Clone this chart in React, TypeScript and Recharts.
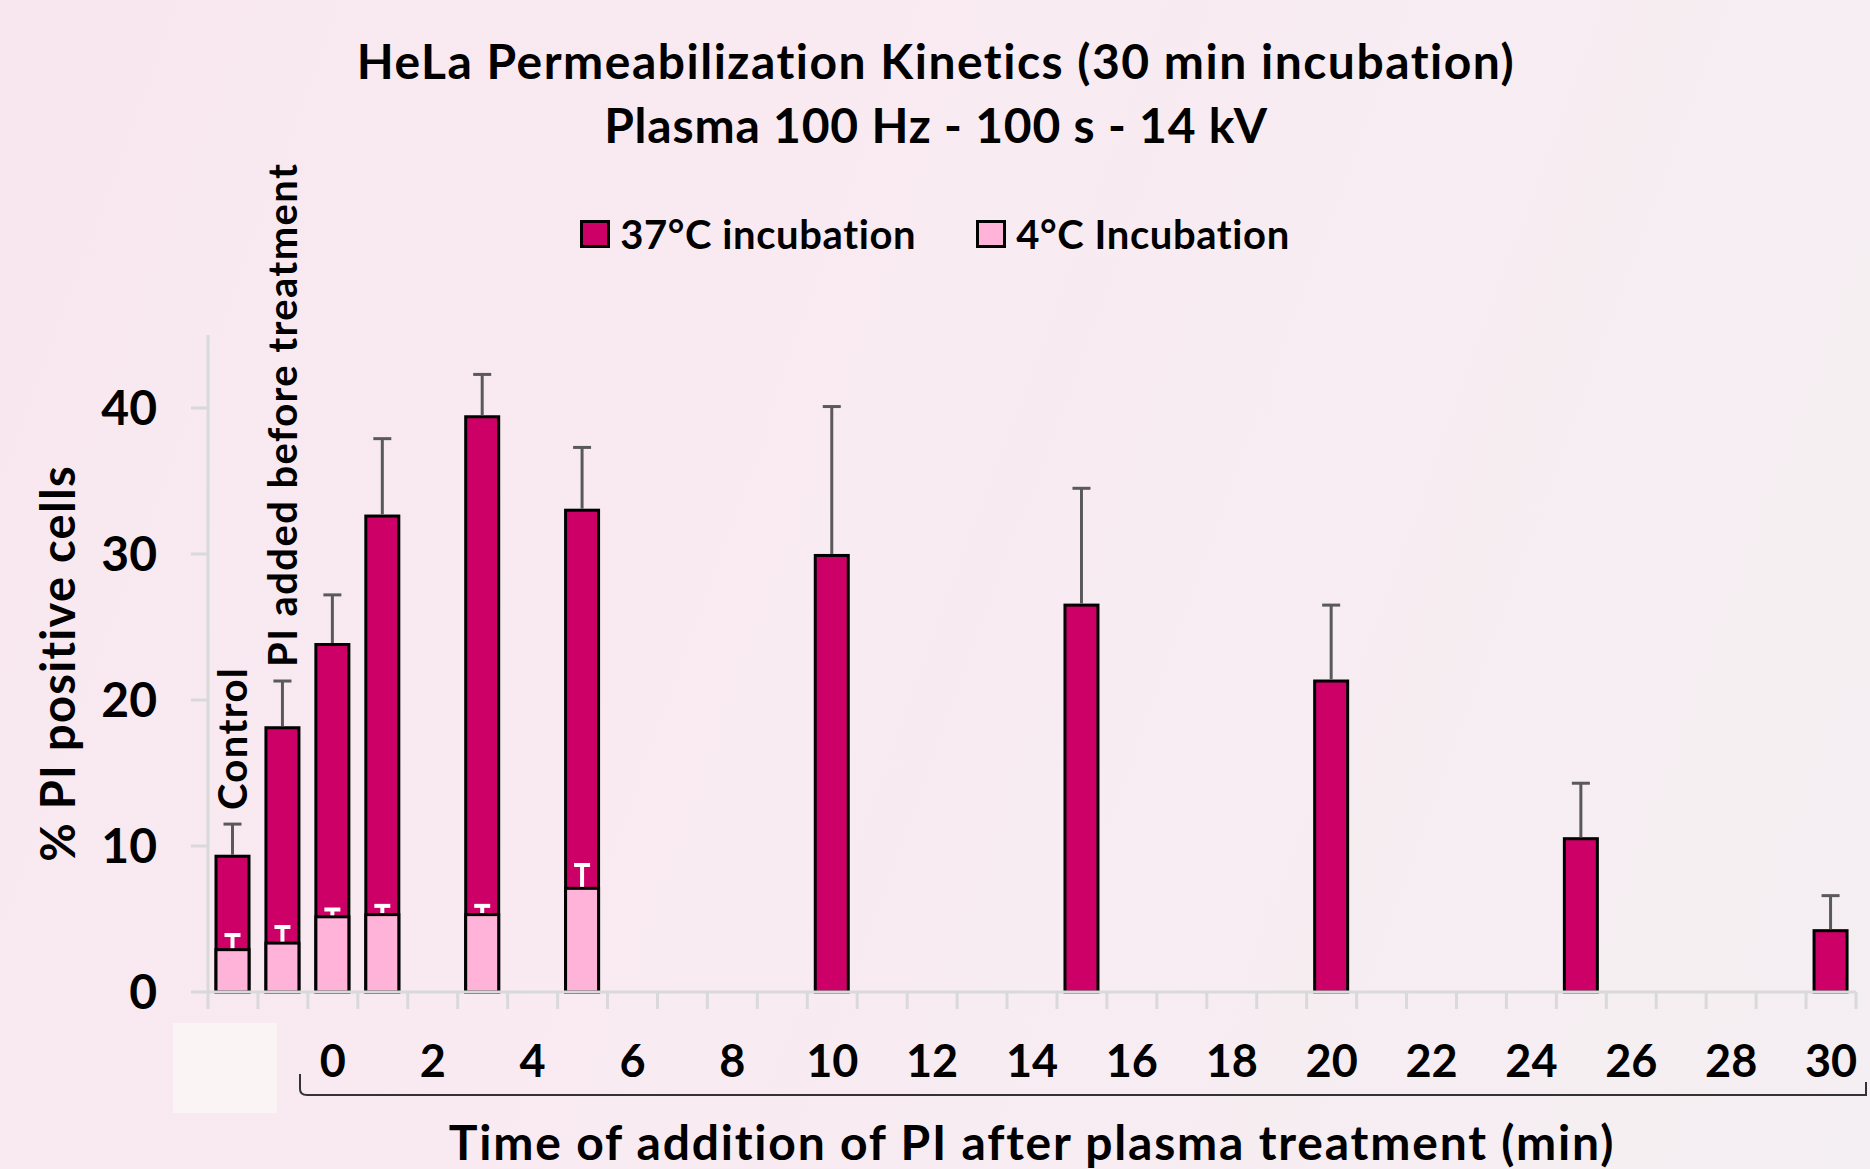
import React from "react";
import { BarChart, Bar, XAxis, YAxis, Legend, Label, LabelList } from "recharts";

const FONT = "Lato, 'Open Sans', sans-serif";
const MAGENTA = "#CC0066";
const PINK = "#FFB3D9";
const AXIS_GRAY = "#D9D9D9";

// categories: 2 reference bars then one slot per minute (0..30)
const categories = [
  "Control", "PI added before treatment",
  "0", "1", "2", "3", "4", "5", "6", "7", "8", "9", "10",
  "11", "12", "13", "14", "15", "16", "17", "18", "19", "20",
  "21", "22", "23", "24", "25", "26", "27", "28", "29", "30",
];

const inc37 = [
  9.3, 18.1,
  23.8, 32.6, null, 39.4, null, 33.0, null, null, null, null, 29.9,
  null, null, null, null, 26.5, null, null, null, null, 21.3,
  null, null, null, null, 10.5, null, null, null, null, 4.2,
];
const inc37Err = [
  2.2, 3.2,
  3.4, 5.3, null, 2.9, null, 4.3, null, null, null, null, 10.2,
  null, null, null, null, 8.0, null, null, null, null, 5.2,
  null, null, null, null, 3.8, null, null, null, null, 2.4,
];

const inc4 = [
  2.9, 3.35,
  5.15, 5.3, null, 5.3, null, 7.1, null, null, null, null, null,
  null, null, null, null, null, null, null, null, null, null,
  null, null, null, null, null, null, null, null, null, null,
];
const inc4Err = [
  1.0, 1.1,
  0.5, 0.6, null, 0.6, null, 1.6, null, null, null, null, null,
  null, null, null, null, null, null, null, null, null, null,
  null, null, null, null, null, null, null, null, null, null,
];

const xTickLabels = ["0", "2", "4", "6", "8", "10", "12", "14", "16", "18", "20", "22", "24", "26", "28", "30"];
const yTicks = [0, 10, 20, 30, 40];

const data = categories.map((name, i) => ({
  name,
  hot: inc37[i],
  hotErr: inc37Err[i],
  cold: inc4[i],
  coldErr: inc4Err[i],
}));

// bar rect + one-sided (upper) error bar
const barWithError = (valKey: string, errKey: string, errColor: string, errWidth: number, cap: number) =>
  (props: any) => {
    const { x, y, width, height, fill, payload } = props;
    const v = payload?.[valKey];
    if (v == null || !height) return <g />;
    const perUnit = height / v;
    const e = payload?.[errKey] ?? 0;
    const cx = x + width / 2;
    const top = y - e * perUnit;
    return (
      <g>
        <rect x={x} y={y} width={width} height={height} fill={fill} stroke="#000" strokeWidth={3} />
        {e > 0 && (
          <g stroke={errColor} strokeWidth={errWidth}>
            <line x1={cx} x2={cx} y1={y - 1.5} y2={top} />
            <line x1={cx - cap / 2} x2={cx + cap / 2} y1={top} y2={top} />
          </g>
        )}
      </g>
    );
  };

const XTick = (props: any) => {
  const { x, y, payload, index, visibleTicksCount } = props;
  const half = payload?.offset ?? 0;
  const label = xTickLabels.includes(String(payload.value)) ? payload.value : "";
  return (
    <g>
      <line x1={x - half} x2={x - half} y1={y - 17} y2={y} stroke={AXIS_GRAY} strokeWidth={3} />
      {index === visibleTicksCount - 1 && (
        <line x1={x + half} x2={x + half} y1={y - 17} y2={y} stroke={AXIS_GRAY} strokeWidth={3} />
      )}
      {label && (
        <text x={x} y={y + 68} textAnchor="middle" fontFamily={FONT} fontWeight={700} fontSize={45} fill="#000">
          {label}
        </text>
      )}
    </g>
  );
};

// rotated category names above the two reference bars
const RotatedName = (props: any) => {
  const { index, viewBox } = props;
  if (index > 1) return null;
  const row = data[index];
  const { x, y, width, height } = viewBox;
  const perUnit = height / (row.hot as number);
  const errTop = y - (row.hotErr as number) * perUnit;
  const cx = x + width / 2;
  const sy = errTop - 14;
  return (
    <text
      x={cx}
      y={sy}
      transform={`rotate(-90 ${cx} ${sy})`}
      textAnchor="start"
      dominantBaseline="central"
      fontFamily={FONT}
      fontWeight={700}
      fontSize={40}
      letterSpacing={1.4}
      fill="#000"
    >
      {row.name}
    </text>
  );
};

const LegendBox = () => {
  const items = [
    { label: "37°C incubation", color: MAGENTA },
    { label: "4°C Incubation", color: PINK },
  ];
  return (
    <div style={{ display: "flex", justifyContent: "center", alignItems: "center", gap: 60 }}>
      {items.map((it) => (
        <div key={it.label} style={{ display: "flex", alignItems: "center", gap: 10 }}>
          <span style={{ width: 24, height: 22, background: it.color, border: "3px solid #000", display: "inline-block" }} />
          <span style={{ fontFamily: FONT, fontWeight: 700, fontSize: 40, lineHeight: 1, letterSpacing: 0.6, color: "#000" }}>
            {it.label}
          </span>
        </div>
      ))}
    </div>
  );
};

export default function App() {
  return (
    <div
      style={{
        position: "absolute",
        left: 0,
        top: 0,
        width: 1870,
        height: 1169,
        overflow: "hidden",
        background: "linear-gradient(110deg, #F9E7EF 0%, #F8EBF1 45%, #F4EFF2 100%)",
      }}
    >
      <BarChart
        width={1870}
        height={1169}
        data={data}
        margin={{ top: 335, right: 14, bottom: 0, left: 30 }}
        barSize={33}
        barGap={-33}
      >
        <XAxis
          dataKey="name"
          interval={0}
          height={177}
          tickSize={17}
          tickMargin={0}
          tickLine={false}
          axisLine={{ stroke: AXIS_GRAY, strokeWidth: 3 }}
          tick={<XTick />}
        >
          <Label
            content={(p: any) => {
              const vb = p.viewBox;
              return (
                <text
                  x={vb.x + vb.width / 2}
                  y={vb.y + 168}
                  textAnchor="middle"
                  fontFamily={FONT}
                  fontWeight={700}
                  fontSize={48}
                  letterSpacing={1.8}
                  fill="#000"
                >
                  Time of addition  of PI after plasma  treatment (min)
                </text>
              );
            }}
          />
        </XAxis>
        <YAxis
          domain={[0, 45]}
          ticks={yTicks}
          width={178}
          tickSize={17}
          tickMargin={34}
          axisLine={{ stroke: AXIS_GRAY, strokeWidth: 3 }}
          tickLine={{ stroke: AXIS_GRAY, strokeWidth: 3 }}
          tick={{ fontFamily: FONT, fontSize: 48, fontWeight: 700, fill: "#000" }}
        >
          <Label
            content={(p: any) => {
              const vb = p.viewBox;
              const cx = 57;
              const cy = vb.y + vb.height / 2;
              return (
                <text
                  x={cx}
                  y={cy}
                  transform={`rotate(-90 ${cx} ${cy})`}
                  textAnchor="middle"
                  dominantBaseline="central"
                  fontFamily={FONT}
                  fontWeight={700}
                  fontSize={47}
                  letterSpacing={1.3}
                  fill="#000"
                >
                  % PI positive cells
                </text>
              );
            }}
          />
        </YAxis>
        <Legend
          layout="horizontal"
          verticalAlign="middle"
          align="center"
          wrapperStyle={{ top: 214, left: 0, width: 1870 }}
          content={<LegendBox />}
        />
        <Bar
          dataKey="hot"
          name="37°C incubation"
          fill={MAGENTA}
          isAnimationActive={false}
          shape={barWithError("hot", "hotErr", "#595959", 3, 18)}
        >
          <LabelList dataKey="name" content={<RotatedName />} />
        </Bar>
        <Bar
          dataKey="cold"
          name="4°C Incubation"
          fill={PINK}
          isAnimationActive={false}
          shape={barWithError("cold", "coldErr", "#FFFFFF", 4, 16)}
        />
      </BarChart>
      <svg
        width={1870}
        height={1169}
        style={{ position: "absolute", left: 0, top: 0, pointerEvents: "none" }}
      >
        <text x={936} y={79} textAnchor="middle" fontFamily={FONT} fontWeight={700} fontSize={48} letterSpacing={1.5} fill="#000">
          HeLa Permeabilization Kinetics (30 min incubation)
        </text>
        <text x={936} y={143} textAnchor="middle" fontFamily={FONT} fontWeight={700} fontSize={48} letterSpacing={0.8} fill="#000">
          Plasma  100 Hz - 100 s - 14 kV
        </text>
        <rect x={173} y={1023} width={104} height={90} fill="#FAF4F4" />
        <path
          d="M300 1074 L300 1089 Q300 1095 307 1095 L1866 1095 L1866 1082"
          fill="none"
          stroke="#333"
          strokeWidth={2}
        />
      </svg>
    </div>
  );
}
